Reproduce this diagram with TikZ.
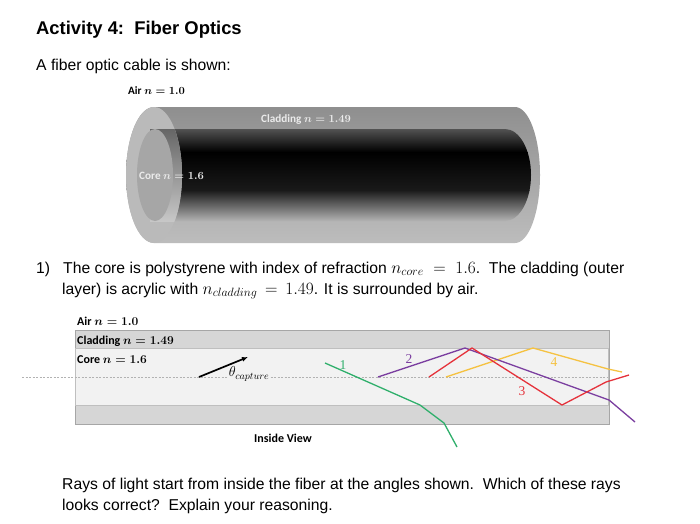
\documentclass[tikz,border=0pt]{standalone}
\usepackage{amsmath}
\usepackage{fontspec}
\setmainfont{Liberation Sans}
\newfontfamily\lblfont{Carlito}
\newfontfamily\numfont{Liberation Serif}
\usepackage{tikz}
\usetikzlibrary{positioning,arrows.meta}
\DeclareMathSizes{15.7}{17}{12.5}{10}

\definecolor{cladfill}{HTML}{D6D6D6}
\definecolor{corefill}{HTML}{F2F2F2}
\definecolor{rimgray}{HTML}{A6A6A6}
\definecolor{raygreen}{HTML}{2FAF6B}
\definecolor{raypurple}{HTML}{7B3FA0}
\definecolor{rayred}{HTML}{E5323B}
\definecolor{rayyellow}{HTML}{F5C242}

\tikzset{
  body/.style={inner sep=0pt, anchor=base west, font=\fontsize{15.7}{18}\selectfont},
  lbl/.style={inner sep=0pt, anchor=base west, font=\lblfont\bfseries\fontsize{12}{14}\selectfont\boldmath},
  toplbl/.style={lbl, font=\lblfont\bfseries\fontsize{11.2}{13}\selectfont\boldmath},
  raylbl/.style={inner sep=0pt, font=\numfont\fontsize{13.5}{15}\selectfont},
  ray/.style={line width=1.3pt, line join=round},
}

\begin{document}
\begin{tikzpicture}[x=1pt,y=-1pt]
  \useasboundingbox[fill=white] (0,0) rectangle (700,523);
  % Text
  \node[body, font=\bfseries\fontsize{18.4}{21}\selectfont] (title) at (36,34) {Activity 4:\ \ Fiber Optics};
  \node[body] (intro) at (36,70) {A fiber optic cable is shown:};
  \node[body] (qone) at (36,273) {1)\ \ \ The core is polystyrene with index of refraction $n_{core}\;=\;1.6$.\ \ The cladding (outer};
  \node[body] (qonebis) at (62,294) {layer) is acrylic with $n_{cladding}\,=\,1.49$. It is surrounded by air.};
  \node[body] (rays) at (62,489.5) {Rays of light start from inside the fiber at the angles shown.\ \ Which of these rays};
  \node[body] (raysbis) at (62,510.5) {looks correct?\ \ Explain your reasoning.};

  % Cable
  \shade[top color=black!44, bottom color=black!26]
    (154,107) -- (515,107) arc[start angle=90, end angle=-90, x radius=25pt, y radius=68pt]
    -- (154,243) arc[start angle=270, end angle=90, x radius=28pt, y radius=68pt] -- cycle;
  \begin{scope}
    \clip (150,129) -- (505,129) arc[start angle=90, end angle=-90, x radius=26pt, y radius=46pt]
      -- (150,221) -- cycle;
    \shade[top color=black!68, bottom color=black] (150,129) rectangle (535,152);
    \shade[top color=black, bottom color=black!90] (150,152) rectangle (535,190);
    \shade[top color=black!90, bottom color=black!30] (150,190) rectangle (535,221);
  \end{scope}
  \fill[black!27] (154,175) ellipse[x radius=28, y radius=68];
  \begin{scope}
    \clip (154,175) ellipse[x radius=28, y radius=68];
    \shade[top color=black!60, bottom color=black!22] (150,129) rectangle (190,221);
  \end{scope}
  \fill[black!35] (155,175) ellipse[x radius=18, y radius=46];
  \node[toplbl, text=black!8] (cladtop) at (261,122) {Cladding $n=1.49$};
  \node[toplbl, text=black!8] (coretop) at (139,179) {Core $n=1.6$};
  \node[toplbl] (airtop) at (128,94) {Air $n=1.0$};

  % Inside view
  \draw[rimgray, line width=1pt, fill=cladfill] (75,330) rectangle (609,424);
  \draw[black!25, line width=.8pt, fill=corefill] (75.5,348) rectangle (608.5,405);
  \coordinate (axisl) at (22,377);
  \coordinate (axisr) at (608,377);
  \draw[black!30, line width=1pt, dash pattern=on 2pt off 1.5pt] (axisl) -- (axisr);
  \node[lbl] (airside) at (77,325) {Air $n=1.0$};
  \node[lbl] (cladside) at (77,344) {Cladding $n=1.49$};
  \node[lbl] (coreside) at (77,363) {Core $n=1.6$};
  \node[lbl] (inside) at (254,442) {Inside View};
  \coordinate (arrowa) at (199,377);
  \coordinate (arrowb) at (248,357);
  \draw[-{Latex[length=6pt,width=5pt]}, line width=1.7pt] (arrowa) -- (arrowb);
  \node[inner sep=1pt, fill=corefill, font=\fontsize{14.8}{17}\selectfont] (theta) at (249,374) {$\theta_{capture}$};

  % Rays
  \coordinate (ga) at (325,363);
  \coordinate (gb) at (420,405);
  \coordinate (gc) at (444,423);
  \coordinate (gd) at (457,447);
  \coordinate (pa) at (378,377);
  \coordinate (pb) at (465,348);
  \coordinate (pc) at (609,400);
  \coordinate (pd) at (635,422);
  \coordinate (ra) at (429,377);
  \coordinate (rb) at (472,348);
  \coordinate (rc) at (562,405);
  \coordinate (rd) at (606,382);
  \coordinate (re) at (629,375);
  \coordinate (ya) at (446,377);
  \coordinate (yb) at (533,348);
  \coordinate (yc) at (608,369);
  \coordinate (yd) at (622,372);
  \draw[ray, raygreen] (ga) -- (gb) -- (gc) -- (gd);
  \draw[ray, rayyellow] (ya) -- (yb) -- (yc) -- (yd);
  \draw[ray, raypurple] (pa) -- (pb) -- (pc) -- (pd);
  \draw[ray, rayred] (ra) -- (rb) -- (rc) -- (rd) -- (re);
  \node[raylbl, text=raygreen] (gnum) at (343,365) {1};
  \node[raylbl, text=raypurple] (pnum) at (409,359) {2};
  \node[raylbl, text=rayred] (rnum) at (522,391) {3};
  \node[raylbl, text=rayyellow] (ynum) at (554,362) {4};
\end{tikzpicture}
\end{document}
